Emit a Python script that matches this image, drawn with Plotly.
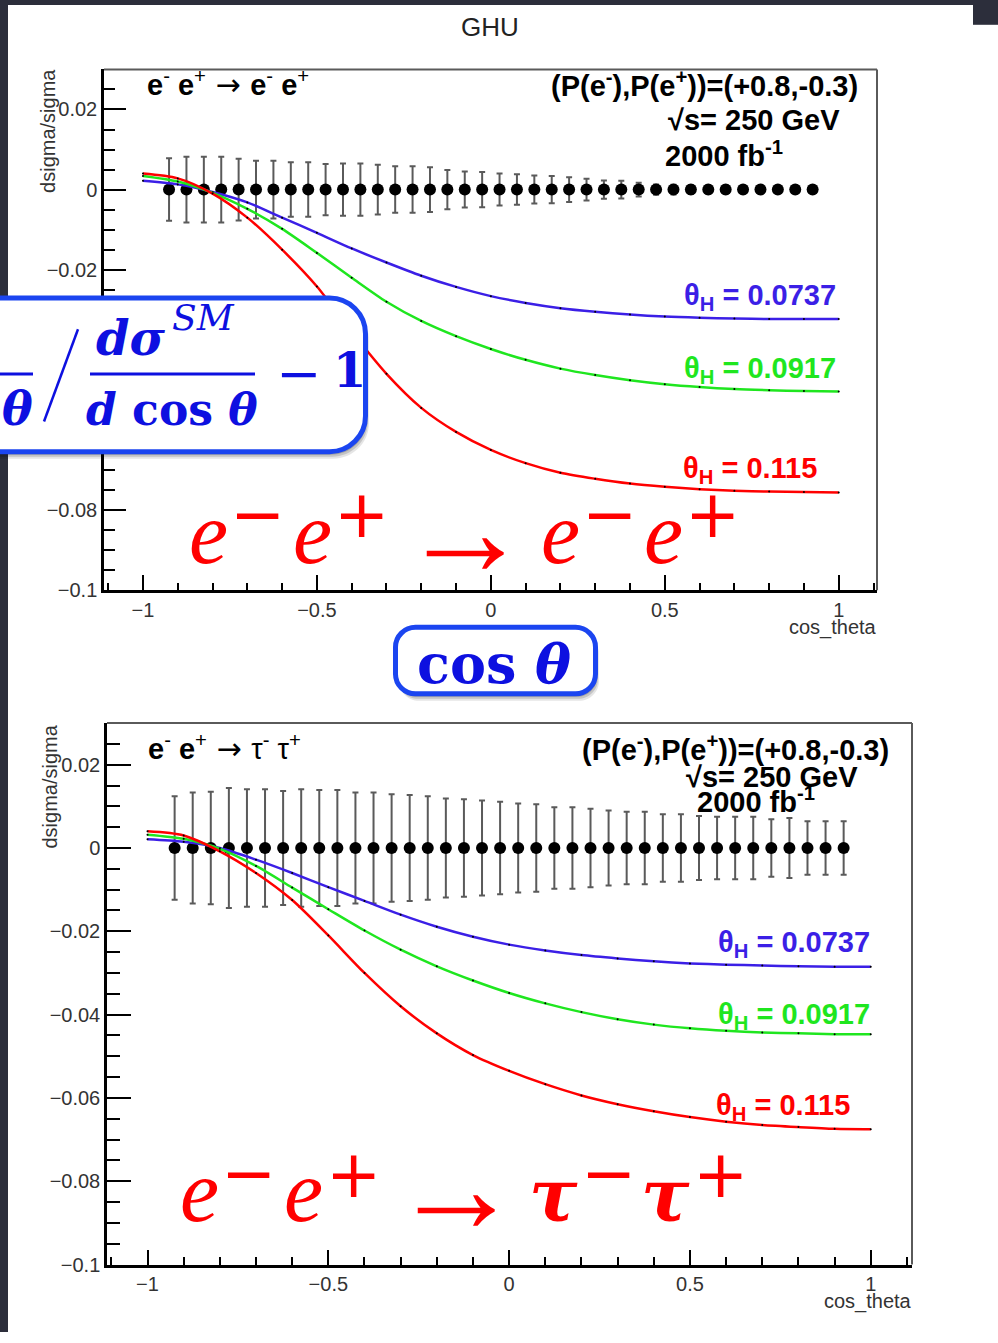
import plotly.graph_objects as go

FIG_W, FIG_H = 998, 1343

# ---------------- data ----------------
cos_theta_bins = [-0.925, -0.875, -0.825, -0.775, -0.725, -0.675, -0.625, -0.575, -0.525, -0.475,
                  -0.425, -0.375, -0.325, -0.275, -0.225, -0.175, -0.125, -0.075, -0.025, 0.025,
                  0.075, 0.125, 0.175, 0.225, 0.275, 0.325, 0.375, 0.425, 0.475, 0.525,
                  0.575, 0.625, 0.675, 0.725, 0.775, 0.825, 0.875, 0.925]

sm_ee = [0.0, 0.0, 0.0, 0.0, 0.0, 0.0, 0.0, 0.0, 0.0, 0.0,
         0.0, 0.0, 0.0, 0.0, 0.0, 0.0, 0.0, 0.0, 0.0, 0.0,
         0.0, 0.0, 0.0, 0.0, 0.0, 0.0, 0.0, 0.0, 0.0, 0.0,
         0.0, 0.0, 0.0, 0.0, 0.0, 0.0, 0.0, 0.0]
err_ee = [0.0078, 0.0082, 0.0082, 0.0082, 0.0077, 0.0072, 0.0072, 0.0068, 0.0068, 0.0064,
          0.0065, 0.0065, 0.0062, 0.0058, 0.0058, 0.0056, 0.0049, 0.0045, 0.0044, 0.0040,
          0.0038, 0.0035, 0.0034, 0.0031, 0.0027, 0.0023, 0.0022, 0.0017, 0.0013, 0.0012,
          0.0011, 0.0010, 0.0010, 0.0009, 0.0009, 0.0008, 0.0008, 0.0008]

sm_tautau = [0.0, 0.0, 0.0, 0.0, 0.0, 0.0, 0.0, 0.0, 0.0, 0.0,
             0.0, 0.0, 0.0, 0.0, 0.0, 0.0, 0.0, 0.0, 0.0, 0.0,
             0.0, 0.0, 0.0, 0.0, 0.0, 0.0, 0.0, 0.0, 0.0, 0.0,
             0.0, 0.0, 0.0, 0.0, 0.0, 0.0, 0.0, 0.0]
err_tautau = [0.0124, 0.0133, 0.0135, 0.0144, 0.0141, 0.0141, 0.0137, 0.0141, 0.0139, 0.0139,
              0.0133, 0.0133, 0.0129, 0.0127, 0.0124, 0.0119, 0.0117, 0.0114, 0.0111, 0.0107,
              0.0105, 0.0098, 0.0098, 0.0094, 0.0090, 0.0087, 0.0087, 0.0081, 0.0081, 0.0077,
              0.0075, 0.0075, 0.0075, 0.0069, 0.0072, 0.0064, 0.0064, 0.0064]

cos_grid = [-1.0, -0.9, -0.8, -0.7, -0.6, -0.5, -0.4, -0.3, -0.2, -0.1, 0.0,
            0.1, 0.2, 0.3, 0.4, 0.5, 0.6, 0.7, 0.8, 0.9, 1.0]

ee_theta_0737 = [0.0022, 0.0013, -0.0006, -0.0032, -0.0070, -0.0108, -0.0147, -0.0182, -0.0215, -0.0243,
                 -0.0266, -0.0283, -0.0296, -0.0305, -0.0312, -0.0317, -0.0320, -0.0322, -0.0323, -0.0323, -0.0323]
ee_theta_0917 = [0.0034, 0.0020, -0.0008, -0.0048, -0.0098, -0.0158, -0.0220, -0.0280, -0.0328, -0.0366,
                 -0.0398, -0.0425, -0.0447, -0.0463, -0.0476, -0.0486, -0.0493, -0.0498, -0.0501, -0.0503, -0.0504]
ee_theta_115 = [0.0040, 0.0028, -0.0010, -0.0070, -0.0150, -0.0242, -0.0355, -0.0460, -0.0545, -0.0605,
                -0.0650, -0.0683, -0.0707, -0.0722, -0.0734, -0.0742, -0.0748, -0.0752, -0.0754, -0.0755, -0.0756]

tt_theta_0737 = [0.0021, 0.0015, 0.0000, -0.0028, -0.0060, -0.0094, -0.0127, -0.0160, -0.0189, -0.0213,
                 -0.0232, -0.0246, -0.0257, -0.0265, -0.0272, -0.0277, -0.0280, -0.0282, -0.0284, -0.0285, -0.0285]
tt_theta_0917 = [0.0032, 0.0022, -0.0002, -0.0043, -0.0095, -0.0147, -0.0198, -0.0244, -0.0284, -0.0318,
                 -0.0348, -0.0373, -0.0394, -0.0411, -0.0424, -0.0433, -0.0439, -0.0443, -0.0445, -0.0447, -0.0447]
tt_theta_115 = [0.0040, 0.0030, -0.0008, -0.0060, -0.0125, -0.0210, -0.0300, -0.0380, -0.0445, -0.0497,
                -0.0535, -0.0567, -0.0594, -0.0615, -0.0632, -0.0646, -0.0657, -0.0665, -0.0670, -0.0674, -0.0675]

curve_names = ["θ_H = 0.0737", "θ_H = 0.0917", "θ_H = 0.115"]
theta_label_text = ["θ<sub>H</sub> = 0.0737", "θ<sub>H</sub> = 0.0917", "θ<sub>H</sub> = 0.115"]

x_tick_vals = [-1, -0.5, 0, 0.5, 1]
x_tick_text = ["−1", "−0.5", "0", "0.5", "1"]
y_tick_vals = [0.02, 0, -0.02, -0.04, -0.06, -0.08, -0.1]
y_tick_text = ["0.02", "0", "−0.02", "−0.04", "−0.06", "−0.08", "−0.1"]

# ---------------- styling ----------------
BLUE = "#3b1fe6"
GREEN = "#1fe61f"
RED = "#ff0000"
CURVE_COLORS = [BLUE, GREEN, RED]
SANS = "Liberation Sans, Arial, sans-serif"
SERIF = "Liberation Serif, Times New Roman, serif"
DVS = "DejaVu Serif, serif"
DVSANS = "DejaVu Sans, sans-serif"
BOX_BLUE = "#1b45f0"
MATH_BLUE = "#0d10e0"
DARK = "#2c2e3b"


def px(x):
    return x / FIG_W


def py(y):
    return 1 - y / FIG_H


fig = go.Figure()

panels = [
    dict(xa="x", ya="y", sm=sm_ee, err=err_ee, curves=[ee_theta_0737, ee_theta_0917, ee_theta_115]),
    dict(xa="x2", ya="y2", sm=sm_tautau, err=err_tautau, curves=[tt_theta_0737, tt_theta_0917, tt_theta_115]),
]

for p in panels:
    fig.add_trace(go.Scatter(
        x=cos_theta_bins, y=p["sm"], mode="markers", xaxis=p["xa"], yaxis=p["ya"],
        marker=dict(size=12, color="black"),
        error_y=dict(type="data", array=p["err"], color="#5a5a5a", thickness=2, width=3),
        showlegend=False, hoverinfo="skip"))
    for vals, col, name in zip(p["curves"], CURVE_COLORS, curve_names):
        fig.add_trace(go.Scatter(
            x=cos_grid, y=vals, mode="lines+markers", xaxis=p["xa"], yaxis=p["ya"], name=name,
            line=dict(color=col, width=2.5, shape="spline", smoothing=0.8),
            marker=dict(size=2, color="black"), showlegend=False))

# frames (pixel boxes of the two plot areas)
frames = [(104, 70, 877, 595), (107, 729, 912, 1275)]


def axis_common():
    return dict(showgrid=False, zeroline=False, showline=True, linecolor="black", linewidth=2.5,
                ticks="inside", tickcolor="black", tickwidth=2,
                tickfont=dict(family=SANS, size=20, color="#333333"))


xa1 = axis_common()
xa1.update(domain=[px(104), px(877)], range=[-1.112, 1.110], anchor="y",
           tickmode="array", tickvals=x_tick_vals, ticktext=x_tick_text, ticklen=15,
           minor=dict(ticks="inside", dtick=0.1, tick0=0, ticklen=7, tickwidth=1.5, tickcolor="black"))
ya1 = axis_common()
ya1.update(domain=[py(595), py(70)], range=[-0.1, 0.03], anchor="x",
           tickmode="array", tickvals=y_tick_vals, ticktext=y_tick_text, ticklen=22,
           minor=dict(ticks="inside", dtick=0.005, tick0=0, ticklen=11, tickwidth=1.5, tickcolor="black"))
xa2 = axis_common()
xa2.update(domain=[px(107), px(912)], range=[-1.112, 1.114], anchor="y2",
           tickmode="array", tickvals=x_tick_vals, ticktext=x_tick_text, ticklen=15,
           minor=dict(ticks="inside", dtick=0.1, tick0=0, ticklen=8, tickwidth=1.5, tickcolor="black"))
ya2 = axis_common()
ya2.update(domain=[py(1275), py(729)], range=[-0.1, 0.03], anchor="x2",
           tickmode="array", tickvals=y_tick_vals, ticktext=y_tick_text, ticklen=24,
           minor=dict(ticks="inside", dtick=0.005, tick0=0, ticklen=13, tickwidth=1.5, tickcolor="black"))

shapes = []
# slide background pieces (dark)
for (x0, y0, x1, y1) in [(0, 0, 8, FIG_H), (0, 0, FIG_W, 5), (973, 0, FIG_W, 25)]:
    shapes.append(dict(type="rect", xref="paper", yref="paper", x0=px(x0), x1=px(x1), y0=py(y1), y1=py(y0),
                       fillcolor=DARK, line=dict(width=0), layer="below"))
# grey top/right frame lines
for (x0, y0, x1, y1) in frames:
    shapes.append(dict(type="line", xref="paper", yref="paper", x0=px(x0), x1=px(x1), y0=py(y0), y1=py(y0),
                       line=dict(color="#5a5a5a", width=2), layer="below"))
    shapes.append(dict(type="line", xref="paper", yref="paper", x0=px(x1), x1=px(x1), y0=py(y0), y1=py(y1),
                       line=dict(color="#5a5a5a", width=2), layer="below"))


def rrect_path(x0, y0, x1, y1, r):
    k = 0.552 * r
    pts = [
        ("M", [(x0 + r, y0)]),
        ("L", [(x1 - r, y0)]),
        ("C", [(x1 - r + k, y0), (x1, y0 + r - k), (x1, y0 + r)]),
        ("L", [(x1, y1 - r)]),
        ("C", [(x1, y1 - r + k), (x1 - r + k, y1), (x1 - r, y1)]),
        ("L", [(x0 + r, y1)]),
        ("C", [(x0 + r - k, y1), (x0, y1 - r + k), (x0, y1 - r)]),
        ("L", [(x0, y0 + r)]),
        ("C", [(x0, y0 + r - k), (x0 + r - k, y0), (x0 + r, y0)]),
    ]
    s = ""
    for cmd, ps in pts:
        s += cmd + " " + " ".join("%.5f,%.5f" % (px(a), py(b)) for a, b in ps) + " "
    return s + "Z"


def rbox(x0, y0, x1, y1, r):
    # soft shadow
    for off, alpha in [(7, 0.10), (5, 0.14), (3, 0.18)]:
        shapes.append(dict(type="path", xref="paper", yref="paper",
                           path=rrect_path(x0 + off * 0.5, y0 + off, x1 + off * 0.5, y1 + off, r),
                           fillcolor="rgba(0,0,0,%.2f)" % alpha, line=dict(width=0), layer="above"))
    shapes.append(dict(type="path", xref="paper", yref="paper", path=rrect_path(x0, y0, x1, y1, r),
                       fillcolor="white", line=dict(color=BOX_BLUE, width=5), layer="above"))


rbox(-40, 300.5, 365.5, 455.5, 36)
rbox(395.5, 632.5, 595.5, 699.5, 20)


def pline(x0, y0, x1, y1, color, width):
    shapes.append(dict(type="line", xref="paper", yref="paper", x0=px(x0), y0=py(y0), x1=px(x1), y1=py(y1),
                       line=dict(color=color, width=width), layer="above"))


# fraction bars and slash in the math box
pline(-5, 377, 33, 377, MATH_BLUE, 3)
pline(90, 377, 255, 377, MATH_BLUE, 3)
pline(78, 332, 44, 425, MATH_BLUE, 2.5)

annotations = []

ASC = {SANS: 0.905, SERIF: 0.891, DVS: 0.928, DVSANS: 0.928}
DESC = {SANS: 0.212, SERIF: 0.216, DVS: 0.236, DVSANS: 0.236}


def note(text, x, y, size, color="black", family=SANS, xanchor="center", yanchor="middle", angle=0):
    annotations.append(dict(text=text, x=px(x), y=py(y), xref="paper", yref="paper", showarrow=False,
                            xanchor=xanchor, yanchor=yanchor, textangle=angle, borderpad=0, borderwidth=0,
                            font=dict(family=family, size=size, color=color)))


def base_note(text, x, baseline, size, color="black", family=SANS, xanchor="center", mode="bottom"):
    # place text by its baseline
    if mode == "bottom":
        note(text, x, baseline + DESC[family] * size, size, color, family, xanchor, "bottom")
    elif mode == "top":
        note(text, x, baseline - ASC[family] * size, size, color, family, xanchor, "top")
    else:
        note(text, x, baseline - (ASC[family] - DESC[family]) / 2 * size, size, color, family, xanchor, "middle")


# title
base_note("GHU", 490, 37, 26, "#222222", SANS)

# axis titles
note("dsigma/sigma", 48, 132, 20, "#333333", SANS, angle=-90)
note("dsigma/sigma", 50, 793, 20, "#333333", SANS, angle=-90)
base_note("cos_theta", 877, 640, 20, "#333333", SANS, xanchor="right")
base_note("cos_theta", 912, 1320, 20, "#333333", SANS, xanchor="right")

# in-plot labels
B = 29
ARW = '<span style="font-family:DejaVu Sans;font-size:30px"> → </span>'
base_note("<b>e</b><sup>-</sup><b> e</b><sup>+</sup>" + ARW + "<b>e</b><sup>-</sup><b> e</b><sup>+</sup>",
          147, 97, B, xanchor="left")
base_note("<b>(P(e<sup>-</sup>),P(e<sup>+</sup>))=(+0.8,-0.3)</b>", 858, 97, B, xanchor="right")
base_note("<b>√s= 250 GeV</b>", 840, 131, B, xanchor="right")
base_note("<b>2000 fb<sup>-1</sup></b>", 783, 167, B, xanchor="right")

base_note("<b>e</b><sup>-</sup><b> e</b><sup>+</sup>" + ARW + "τ<sup>-</sup> τ<sup>+</sup>",
          148, 766, B, xanchor="left")
base_note("<b>(P(e<sup>-</sup>),P(e<sup>+</sup>))=(+0.8,-0.3)</b>", 889, 766, B, xanchor="right")
base_note("<b>√s= 250 GeV</b>", 858, 793, B, xanchor="right")
base_note("<b>2000 fb<sup>-1</sup></b>", 815, 819, B, xanchor="right")

for txt, col, xr, bl in zip(theta_label_text, CURVE_COLORS, [836, 836, 817], [308, 381, 482]):
    base_note("<b>" + txt + "</b>", xr, bl, B, col, SANS, xanchor="right", mode="top")
for txt, col, xr, bl in zip(theta_label_text, CURVE_COLORS, [870, 870, 850], [960, 1032, 1124]):
    base_note("<b>" + txt + "</b>", xr, bl, B, col, SANS, xanchor="right", mode="top")

# big red process formulas (slide overlay)
E_SIZE = 88
PM_SIZE = 66
ARROW_SIZE = 130
for x, bl in [(208, 568), (312, 568), (560, 568), (663, 568)]:
    base_note("<i>e</i>", x, bl, E_SIZE, RED, SERIF, mode="middle")
for sym, x, cy in [("−", 257, 519), ("+", 361, 519), ("−", 609, 519), ("+", 712, 519)]:
    note(sym, x, cy, PM_SIZE, RED, DVSANS)
note("→", 465, 535, ARROW_SIZE, RED, SERIF)

for x, bl in [(199, 1231), (303, 1231)]:
    base_note("<i>e</i>", x, bl, E_SIZE, RED, SERIF, mode="middle")
for x, bl in [(553, 1230), (665, 1230)]:
    base_note("<b><i>τ</i></b>", x, bl, 72, RED, DVS, mode="middle")
for sym, x, cy in [("−", 248, 1183), ("+", 353, 1184), ("−", 608, 1183), ("+", 720, 1184)]:
    note(sym, x, cy, PM_SIZE, RED, DVSANS)
note("→", 456, 1198, ARROW_SIZE, RED, SERIF)

# math box content (blue)
base_note("<b><i>θ</i></b>", 17, 428, 46, MATH_BLUE, DVS, mode="middle")
base_note("<b><i>dσ</i></b>", 131, 357, 48, MATH_BLUE, DVS, mode="middle")
base_note("<i>SM</i>", 203, 333, 36, MATH_BLUE, DVS, mode="middle")
base_note("<b><i>d</i> cos <i>θ</i></b>", 172, 428, 44, MATH_BLUE, DVS, mode="middle")
note("−", 298, 377, 54, MATH_BLUE, DVS)
base_note("<b>1</b>", 349, 390, 48, MATH_BLUE, DVS, mode="middle")

# cos theta box
base_note("<b>cos <i>θ</i></b>", 494, 688, 54, MATH_BLUE, DVS, mode="middle")

fig.update_layout(
    width=FIG_W, height=FIG_H, margin=dict(l=0, r=0, t=0, b=0), autosize=False,
    paper_bgcolor="white", plot_bgcolor="white", showlegend=False,
    xaxis=xa1, yaxis=ya1, xaxis2=xa2, yaxis2=ya2,
    shapes=shapes, annotations=annotations,
)

# make the page exactly the figure (no default body margin)
PAGE_FIX = (
    "var h=document.documentElement.style, b=document.body.style;"
    "h.margin='0';h.padding='0';h.overflow='hidden';h.background='white';"
    "b.margin='0';b.padding='0';b.overflow='hidden';b.background='white';"
)

fig.write_html("out.html", config={"displayModeBar": False, "responsive": False},
               post_script=PAGE_FIX)
